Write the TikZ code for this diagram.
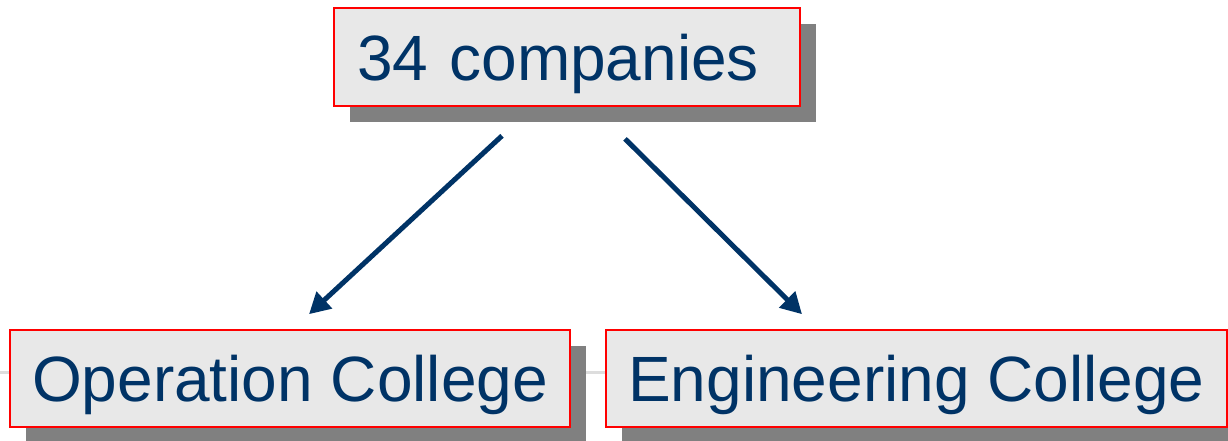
\documentclass[tikz,border=0pt]{standalone}
\usepackage{fontspec}
\setmainfont{Liberation Sans}
\usetikzlibrary{arrows.meta,shadows}
\definecolor{navy}{HTML}{003366}
\definecolor{boxfill}{HTML}{E8E8E8}
\definecolor{shadowgray}{HTML}{808080}
\definecolor{rulegray}{HTML}{DDDDDD}
\begin{document}
\begin{tikzpicture}[x=1pt,y=-1pt,
                    box/.style={draw=red,line width=1.6pt,fill=boxfill,
                        text=navy,inner sep=0pt,minimum height=97pt,
                        text height=46pt,text depth=0pt,
                        font=\fontsize{64}{70}\selectfont,
                        drop shadow={opacity=1,fill=shadowgray,
                            shadow xshift=16pt,shadow yshift=-16pt}},
                    link/.style={draw=navy,line width=5pt,
                        -{Triangle[length=21pt,width=22pt]}}]
                    \useasboundingbox (0,0) rectangle (1228,440);
                    % background rule
                    \draw[rulegray,line width=3pt] (0,372) -- (1228,372);
                    % boxes
                    \node[box,minimum height=98pt,text width=420pt,
                          inner xsep=23pt,align=left] (top) at (567,57) {34 companies};
                    \node[box,minimum width=560pt] (opc) at (290,378.5) {Operation College};
                    \node[box,minimum width=621pt] (eng) at (916.5,378.5) {Engineering College};
                    % arrows
                    \draw[link] ([xshift=-65pt,yshift=-29pt]top.south)
                            -- ([xshift=19pt,yshift=15pt]opc.north);
                    \draw[link] ([xshift=58pt,yshift=-32pt]top.south)
                            -- ([xshift=-114.5pt,yshift=15pt]eng.north);
\end{tikzpicture}
\end{document}
